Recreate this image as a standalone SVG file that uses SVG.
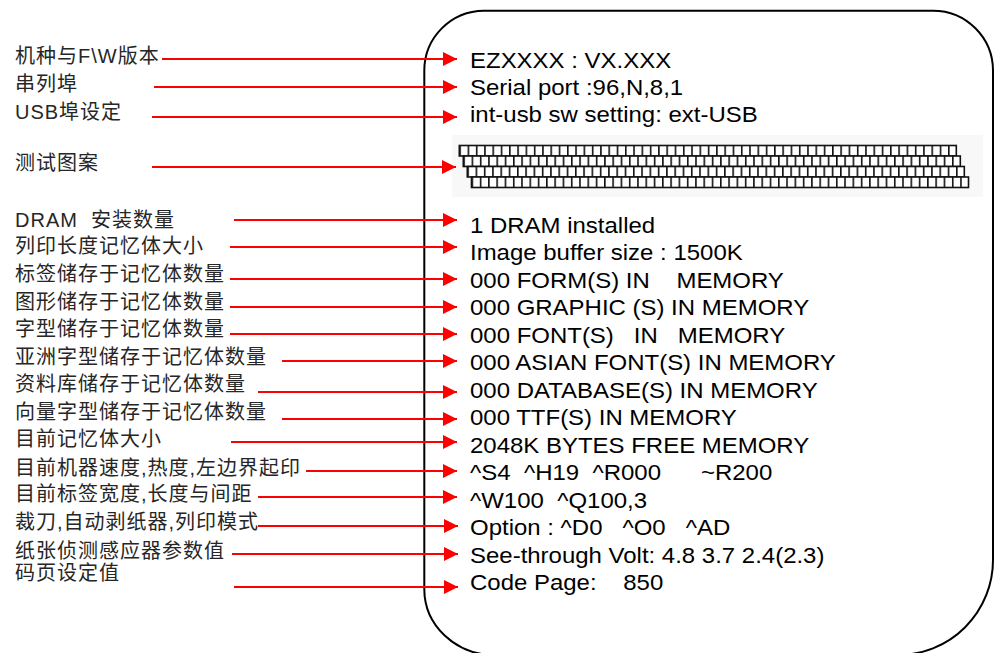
<svg xmlns="http://www.w3.org/2000/svg" width="994" height="653" viewBox="0 0 994 653" xml:space="preserve">
<defs>
<style>
.lbl{font-family:"Liberation Sans","Noto Sans CJK SC",sans-serif;font-size:20px;letter-spacing:1px;fill:#262626;white-space:pre}
.out{font-family:"Liberation Sans",Arial,sans-serif;font-size:22px;fill:#000;white-space:pre}
.arr{stroke:#ff0000;stroke-width:2.2;fill:none;marker-end:url(#ah)}
.frame{fill:none;stroke:#000;stroke-width:2}
</style>
<marker id="ah" markerUnits="userSpaceOnUse" markerWidth="14" markerHeight="14" refX="14" refY="7" orient="auto" viewBox="0 0 14 14">
<path d="M0,0 L14,7 L0,14 Z" fill="#ff0000"/>
</marker>
<pattern id="cells" patternUnits="userSpaceOnUse" width="8.283" height="10.5">
<rect x="0" y="0" width="8.283" height="10.5" fill="#fff"/>
<rect x="0" y="0" width="1.6" height="10.5" fill="#111"/>
</pattern>
<g id="row">
<rect x="0" y="0" width="497" height="10.5" fill="url(#cells)" stroke="#111" stroke-width="1.6"/>
</g>
</defs>
<rect width="994" height="653" fill="#fff"/>

<g id="frame">
<path class="frame" d="M484,10.7 H933 A60,60 0 0 1 993,70.7 V560 A95,95 0 0 1 898,655 H494 A70,66 0 0 1 424.3,589 V70.7 A60,60 0 0 1 484,10.7 Z"/>
</g>

<g id="test-pattern">
<rect x="452" y="135" width="531" height="62" fill="#f8f8f8"/>
<use href="#row" transform="translate(459.3 145.5)"/>
<use href="#row" transform="translate(463.3 156)"/>
<use href="#row" transform="translate(467.3 166.5)"/>
<use href="#row" transform="translate(471.5 177)"/>
</g>

<g id="labels">
<g id="l1"><text class="lbl" x="15" y="63">机种与F\W版本</text></g>
<g id="l2"><text class="lbl" x="15" y="91">串列埠</text></g>
<g id="l3"><text class="lbl" x="15" y="119">USB埠设定</text></g>
<g id="l4"><text class="lbl" x="15" y="170">测试图案</text></g>
<g id="l5"><text class="lbl" x="15" y="227">DRAM  安装数量</text></g>
<g id="l6"><text class="lbl" x="15" y="253">列印长度记忆体大小</text></g>
<g id="l7"><text class="lbl" x="15" y="281">标签储存于记忆体数量</text></g>
<g id="l8"><text class="lbl" x="15" y="309">图形储存于记忆体数量</text></g>
<g id="l9"><text class="lbl" x="15" y="336">字型储存于记忆体数量</text></g>
<g id="l10"><text class="lbl" x="15" y="364">亚洲字型储存于记忆体数量</text></g>
<g id="l11"><text class="lbl" x="15" y="391">资料库储存于记忆体数量</text></g>
<g id="l12"><text class="lbl" x="15" y="419">向量字型储存于记忆体数量</text></g>
<g id="l13"><text class="lbl" x="15" y="446">目前记忆体大小</text></g>
<g id="l14"><text class="lbl" x="15" y="475">目前机器速度,热度,左边界起印</text></g>
<g id="l15"><text class="lbl" x="15" y="501">目前标签宽度,长度与间距</text></g>
<g id="l16"><text class="lbl" x="15" y="529">裁刀,自动剥纸器,列印模式</text></g>
<g id="l17"><text class="lbl" x="15" y="558">纸张侦测感应器参数值</text></g>
<g id="l18"><text class="lbl" x="15" y="580">码页设定值</text></g>
</g>

<g id="outputs" transform="translate(470 0) scale(1.09 1)">
<g id="o1"><text class="out" x="0" y="68">EZXXXX : VX.XXX</text></g>
<g id="o2"><text class="out" x="0" y="95">Serial port :96,N,8,1</text></g>
<g id="o3"><text class="out" x="0" y="122">int-usb sw setting: ext-USB</text></g>
<g id="o5"><text class="out" x="0" y="233">1 DRAM installed</text></g>
<g id="o6"><text class="out" x="0" y="260.5">Image buffer size : 1500K</text></g>
<g id="o7"><text class="out" x="0" y="288">000 FORM(S) IN    MEMORY</text></g>
<g id="o8"><text class="out" x="0" y="315.5">000 GRAPHIC (S) IN MEMORY</text></g>
<g id="o9"><text class="out" x="0" y="343">000 FONT(S)   IN   MEMORY</text></g>
<g id="o10"><text class="out" x="0" y="370.5">000 ASIAN FONT(S) IN MEMORY</text></g>
<g id="o11"><text class="out" x="0" y="398">000 DATABASE(S) IN MEMORY</text></g>
<g id="o12"><text class="out" x="0" y="425.5">000 TTF(S) IN MEMORY</text></g>
<g id="o13"><text class="out" x="0" y="453">2048K BYTES FREE MEMORY</text></g>
<g id="o14"><text class="out" x="0" y="480.5">^S4  ^H19  ^R000      ~R200</text></g>
<g id="o15"><text class="out" x="0" y="508">^W100  ^Q100,3</text></g>
<g id="o16"><text class="out" x="0" y="535.5">Option : ^D0   ^O0   ^AD</text></g>
<g id="o17"><text class="out" x="0" y="563">See-through Volt: 4.8 3.7 2.4(2.3)</text></g>
<g id="o18"><text class="out" x="0" y="590.5">Code Page:    850</text></g>
</g>

<g id="connectors">
<line class="arr" x1="162" y1="59" x2="457" y2="59"/>
<line class="arr" x1="154" y1="87" x2="457" y2="87"/>
<line class="arr" x1="152" y1="117" x2="457" y2="117"/>
<line class="arr" x1="152" y1="167" x2="456" y2="167"/>
<line class="arr" x1="234" y1="220" x2="457" y2="220"/>
<line class="arr" x1="230" y1="247" x2="457" y2="247"/>
<line class="arr" x1="230" y1="279" x2="457" y2="279"/>
<line class="arr" x1="230" y1="307" x2="457" y2="307"/>
<line class="arr" x1="230" y1="334" x2="457" y2="334"/>
<line class="arr" x1="282" y1="361" x2="457" y2="361"/>
<line class="arr" x1="258" y1="392" x2="457" y2="392"/>
<line class="arr" x1="282" y1="419" x2="457" y2="419"/>
<line class="arr" x1="231" y1="442" x2="457" y2="442"/>
<line class="arr" x1="306" y1="471" x2="457" y2="471"/>
<line class="arr" x1="258" y1="497" x2="457" y2="497"/>
<line class="arr" x1="258" y1="526" x2="458" y2="526"/>
<line class="arr" x1="232" y1="554" x2="458" y2="554"/>
<line class="arr" x1="234" y1="587" x2="458" y2="587"/>
</g>
</svg>
